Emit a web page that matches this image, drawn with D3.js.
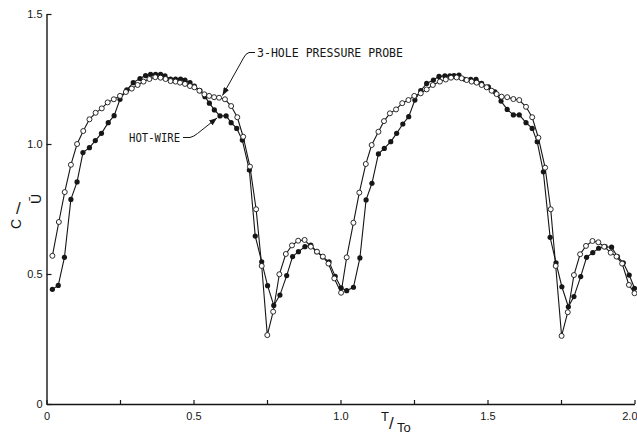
<!DOCTYPE html>
<html>
<head>
<meta charset="utf-8">
<script src="https://cdn.jsdelivr.net/npm/d3@7"></script>
<style>
  body { margin: 0; background: #fff; }
  svg { display: block; }
</style>
</head>
<body>
<svg id="chart" width="637" height="436"></svg>
<script>
// values, T/To on x, C/U on y

// 3-hole pressure probe (open circles)
const probeT = [0.020, 0.042, 0.062, 0.083, 0.104, 0.125, 0.146, 0.167, 0.188, 0.208,
  0.229, 0.250, 0.270, 0.290, 0.310, 0.330, 0.350, 0.370, 0.388, 0.405,
  0.422, 0.439, 0.454, 0.471, 0.488, 0.503, 0.520, 0.537, 0.553, 0.570,
  0.587, 0.607, 0.628, 0.649, 0.669, 0.692, 0.713, 0.732, 0.751, 0.771,
  0.792, 0.814, 0.835, 0.856, 0.878, 0.899, 0.920, 0.940, 0.959, 0.979,
  1.002, 1.021, 1.044, 1.064, 1.086, 1.106, 1.129, 1.148, 1.168, 1.189,
  1.210, 1.231, 1.251, 1.273, 1.293, 1.314, 1.338, 1.358, 1.376, 1.395,
  1.412, 1.429, 1.446, 1.463, 1.480, 1.497, 1.514, 1.531, 1.548, 1.567,
  1.588, 1.608, 1.631, 1.652, 1.673, 1.696, 1.715, 1.732, 1.752, 1.773,
  1.794, 1.815, 1.835, 1.857, 1.877, 1.897, 1.919, 1.939, 1.958, 1.981, 2.000];
const probeC = [0.570, 0.700, 0.815, 0.920, 1.000, 1.050, 1.095, 1.120, 1.137, 1.160,
  1.172, 1.185, 1.200, 1.213, 1.227, 1.240, 1.250, 1.257, 1.255, 1.250,
  1.242, 1.240, 1.236, 1.231, 1.223, 1.218, 1.205, 1.191, 1.185, 1.180,
  1.178, 1.172, 1.146, 1.103, 1.028, 0.913, 0.749, 0.531, 0.265, 0.355,
  0.499, 0.577, 0.610, 0.628, 0.631, 0.605, 0.586, 0.567, 0.540, 0.483,
  0.428, 0.564, 0.697, 0.813, 0.923, 0.996, 1.047, 1.088, 1.118, 1.133,
  1.157, 1.169, 1.185, 1.195, 1.210, 1.227, 1.240, 1.248, 1.255, 1.256,
  1.253, 1.246, 1.240, 1.236, 1.227, 1.218, 1.205, 1.192, 1.182, 1.180,
  1.173, 1.169, 1.143, 1.103, 1.024, 0.909, 0.749, 0.531, 0.262, 0.353,
  0.496, 0.576, 0.608, 0.627, 0.622, 0.605, 0.582, 0.567, 0.540, 0.458, 0.426];

// hot-wire (filled circles)
const wireT = [0.020, 0.040, 0.061, 0.083, 0.104, 0.124, 0.146, 0.166, 0.187, 0.210,
  0.230, 0.250, 0.273, 0.295, 0.318, 0.337, 0.354, 0.371, 0.388, 0.403,
  0.422, 0.439, 0.456, 0.471, 0.488, 0.503, 0.522, 0.539, 0.554, 0.571,
  0.590, 0.611, 0.628, 0.647, 0.666, 0.690, 0.710, 0.732, 0.752, 0.773,
  0.794, 0.817, 0.837, 0.857, 0.879, 0.899, 0.919, 0.939, 0.961, 0.982,
  1.002, 1.021, 1.044, 1.066, 1.087, 1.107, 1.129, 1.149, 1.171, 1.191,
  1.212, 1.232, 1.253, 1.273, 1.293, 1.316, 1.335, 1.355, 1.372, 1.386,
  1.403, 1.423, 1.443, 1.461, 1.480, 1.503, 1.525, 1.546, 1.567, 1.588,
  1.608, 1.631, 1.652, 1.669, 1.690, 1.713, 1.733, 1.753, 1.775, 1.794,
  1.817, 1.837, 1.858, 1.878, 1.900, 1.922, 1.942, 1.962, 1.982, 2.000];
const wireC = [0.441, 0.456, 0.564, 0.787, 0.854, 0.967, 0.986, 1.013, 1.041, 1.082,
  1.109, 1.172, 1.208, 1.236, 1.252, 1.263, 1.268, 1.268, 1.268, 1.262,
  1.250, 1.250, 1.250, 1.246, 1.236, 1.223, 1.205, 1.182, 1.157, 1.131,
  1.108, 1.108, 1.082, 1.060, 1.015, 0.900, 0.646, 0.547, 0.455, 0.379,
  0.419, 0.494, 0.567, 0.586, 0.605, 0.611, 0.586, 0.566, 0.547, 0.491,
  0.447, 0.436, 0.449, 0.562, 0.785, 0.849, 0.962, 0.983, 1.009, 1.041,
  1.077, 1.105, 1.169, 1.205, 1.233, 1.246, 1.260, 1.262, 1.262, 1.263,
  1.265, 1.249, 1.249, 1.249, 1.233, 1.220, 1.201, 1.165, 1.133, 1.112,
  1.112, 1.082, 1.060, 1.009, 0.893, 0.641, 0.543, 0.451, 0.374, 0.413,
  0.490, 0.564, 0.582, 0.599, 0.605, 0.603, 0.567, 0.543, 0.496, 0.445];

const xTicks = [0, 0.25, 0.5, 0.75, 1.0, 1.25, 1.5, 1.75, 2.0];
const xLabels = ["0", "", "0.5", "", "1.0", "", "1.5", "", "2.0"];
const yTicks = [0, 0.5, 1.0, 1.5];
const yLabels = ["0", "0.5", "1.0", "1.5"];

const probe = probeT.map((t, i) => ({ t: t, c: probeC[i] }));
const wire = wireT.map((t, i) => ({ t: t, c: wireC[i] }));

const ink = "#161616";
const svg = d3.select("#chart");

const x = d3.scaleLinear().domain([0, 2]).range([46.5, 634.5]);
const y = d3.scaleLinear().domain([0, 1.5]).range([404, 14]);

// arrow head for the two leader lines
svg.append("defs").append("marker")
  .attr("id", "arrow")
  .attr("markerUnits", "userSpaceOnUse")
  .attr("viewBox", "0 0 8 6")
  .attr("refX", 8).attr("refY", 3)
  .attr("markerWidth", 8).attr("markerHeight", 6)
  .attr("orient", "auto")
  .append("path")
  .attr("d", "M0,0 L8,3 L0,6 Z")
  .attr("fill", ink);

// axes, ticks pointing inward
const xAxis = d3.axisBottom(x)
  .tickValues(xTicks)
  .tickFormat((d, i) => xLabels[i])
  .tickSizeInner(-4)
  .tickSizeOuter(0)
  .tickPadding(6);

const yAxis = d3.axisLeft(y)
  .tickValues(yTicks)
  .tickFormat((d, i) => yLabels[i])
  .tickSizeInner(-5)
  .tickSizeOuter(0)
  .tickPadding(4);

const gx = svg.append("g").attr("transform", "translate(0,404)").call(xAxis);
const gy = svg.append("g").attr("transform", "translate(46.5,0)").call(yAxis);

[gx, gy].forEach((g) => {
  g.select(".domain").attr("stroke", ink).attr("stroke-width", 1.4);
  g.selectAll(".tick line").attr("stroke", ink).attr("stroke-width", 1.2);
  g.selectAll(".tick text")
    .attr("fill", ink)
    .style("font-family", "'Liberation Sans', Arial, sans-serif")
    .style("font-size", "11px");
});
gx.selectAll(".tick text").attr("dy", "0.9em");
// last label sits against the right edge of the window
gx.selectAll(".tick text").filter((d) => d === 2).attr("text-anchor", "end").attr("x", 2.5);

// series lines
const line = d3.line().x((d) => x(d.t)).y((d) => y(d.c));

svg.append("path").datum(wire)
  .attr("d", line)
  .attr("fill", "none")
  .attr("stroke", ink)
  .attr("stroke-width", 1.1);

svg.append("path").datum(probe)
  .attr("d", line)
  .attr("fill", "none")
  .attr("stroke", ink)
  .attr("stroke-width", 1.1);

svg.append("g").selectAll("circle")
  .data(wire)
  .join("circle")
  .attr("cx", (d) => x(d.t))
  .attr("cy", (d) => y(d.c))
  .attr("r", 2.6)
  .attr("fill", ink);

svg.append("g").selectAll("circle")
  .data(probe)
  .join("circle")
  .attr("cx", (d) => x(d.t))
  .attr("cy", (d) => y(d.c))
  .attr("r", 2.5)
  .attr("fill", "#fff")
  .attr("stroke", ink)
  .attr("stroke-width", 0.9);

// annotations
const labelFont = "'DejaVu Sans Mono', monospace";

svg.append("text")
  .attr("x", 257).attr("y", 57)
  .attr("textLength", 146)
  .attr("lengthAdjust", "spacingAndGlyphs")
  .style("font-family", labelFont)
  .style("font-size", "12px")
  .attr("fill", ink)
  .text("3-HOLE PRESSURE PROBE");

svg.append("path")
  .attr("d", "M255,52.5 L249,52.5 Q245.5,53.5 243.5,58 L222.5,95.5")
  .attr("fill", "none")
  .attr("stroke", ink)
  .attr("stroke-width", 1)
  .attr("marker-end", "url(#arrow)");

svg.append("text")
  .attr("x", 129).attr("y", 142)
  .attr("textLength", 51)
  .attr("lengthAdjust", "spacingAndGlyphs")
  .style("font-family", labelFont)
  .style("font-size", "12px")
  .attr("fill", ink)
  .text("HOT-WIRE");

svg.append("path")
  .attr("d", "M183,137.5 L190,137.5 Q194,136.5 197.5,133.5 L217,118")
  .attr("fill", "none")
  .attr("stroke", ink)
  .attr("stroke-width", 1)
  .attr("marker-end", "url(#arrow)");

// axis titles
const titleFont = "'Liberation Sans', Arial, sans-serif";

const xt = svg.append("g").attr("fill", ink)
  .style("font-family", titleFont);
xt.append("text").attr("x", 381).attr("y", 421).style("font-size", "13px").text("T");
xt.append("text").attr("x", 389).attr("y", 429).style("font-size", "17px").text("/");
xt.append("text").attr("x", 397).attr("y", 432).style("font-size", "13px").text("To");

const yt = svg.append("g").attr("fill", ink)
  .style("font-family", titleFont);
yt.append("text")
  .attr("transform", "translate(21,229) rotate(-90)")
  .style("font-size", "14px")
  .text("C");
yt.append("text")
  .attr("x", 16).attr("y", 214)
  .style("font-size", "17px")
  .text("/");
yt.append("text")
  .attr("transform", "translate(41,204) rotate(-90)")
  .style("font-size", "14px")
  .text("Ū");
</script>
</body>
</html>
